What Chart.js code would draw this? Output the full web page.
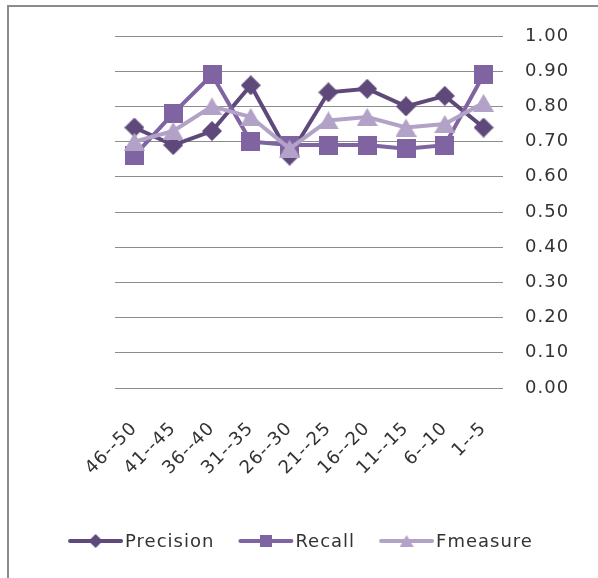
<!DOCTYPE html>
<html><head><meta charset="utf-8">
<script src="https://cdn.jsdelivr.net/npm/chart.js@4/dist/chart.umd.min.js"></script>
<style>
html,body{margin:0;padding:0;background:#fff;overflow:hidden;width:598px;height:578px;}
#c{position:absolute;left:0;top:0;}
</style></head><body>
<canvas id="c" width="598" height="578"></canvas>
<script>
const categories = ['46--50','41--45','36--40','31--35','26--30','21--25','16--20','11--15','6--10','1--5'];
const precision = [0.74, 0.69, 0.73, 0.86, 0.66, 0.84, 0.85, 0.80, 0.83, 0.74];
const recall    = [0.66, 0.78, 0.89, 0.70, 0.69, 0.69, 0.69, 0.68, 0.69, 0.89];
const fmeasure  = [0.70, 0.73, 0.80, 0.77, 0.68, 0.76, 0.77, 0.74, 0.75, 0.81];
const seriesNames = ['Precision', 'Recall', 'Fmeasure'];
const yMin = 0, yMax = 1, yStep = 0.1;

const colors = ['#5f497a', '#8064a2', '#b3a2c7'];
const FONT = '"DejaVu Sans", sans-serif';
const TEXT = '#333333';

function marker(shape, color, w, h) {
  const c = document.createElement('canvas'); c.width = w; c.height = h;
  const g = c.getContext('2d'); g.fillStyle = color; g.beginPath();
  if (shape === 'diamond') { g.moveTo(w/2,0); g.lineTo(w,h/2); g.lineTo(w/2,h); g.lineTo(0,h/2); }
  else if (shape === 'square') { g.rect(0,0,w,h); }
  else { g.moveTo(w/2,0); g.lineTo(w,h); g.lineTo(0,h); }
  g.closePath(); g.fill(); return c;
}
const pointImgs = [marker('diamond', colors[0], 20, 20), marker('square', colors[1], 19, 19), marker('triangle', colors[2], 21, 18)];
const legendImgs = [marker('diamond', colors[0], 14, 14), marker('square', colors[1], 12, 12), marker('triangle', colors[2], 14, 12)];

const spacingPlugin = {
  id: 'spacing',
  beforeUpdate(chart) { chart.ctx.letterSpacing = '1px'; },
  beforeDraw(chart) {
    const ctx = chart.ctx;
    ctx.save();
    ctx.strokeStyle = '#8c8c8c'; ctx.lineWidth = 2;
    ctx.beginPath(); ctx.moveTo(8, 600); ctx.lineTo(8, 6); ctx.lineTo(600, 6); ctx.stroke();
    ctx.restore();
    ctx.letterSpacing = '1px';
  }
};

const legendPlugin = {
  id: 'customLegend',
  afterDraw(chart) {
    const ctx = chart.ctx;
    ctx.save();
    ctx.font = '18px ' + FONT;
    ctx.letterSpacing = '1px';
    ctx.textBaseline = 'middle';
    ctx.textAlign = 'left';
    const lineW = 55, gapText = 2, gapItem = 24, y = 541;
    const ds = chart.data.datasets;
    const widths = ds.map(d => lineW + gapText + ctx.measureText(d.label).width);
    const total = widths.reduce((a, b) => a + b, 0) + gapItem * (ds.length - 1);
    let x = 300.5 - total / 2;
    ds.forEach((d, i) => {
      ctx.strokeStyle = d.borderColor; ctx.lineWidth = 4; ctx.lineCap = 'round';
      ctx.beginPath(); ctx.moveTo(x + 2, y); ctx.lineTo(x + lineW - 2, y); ctx.stroke();
      const img = legendImgs[i];
      ctx.drawImage(img, x + lineW / 2 - img.width / 2, y - img.height / 2);
      ctx.fillStyle = TEXT;
      ctx.fillText(d.label, x + lineW + gapText, y + 1);
      x += widths[i] + gapItem;
    });
    ctx.restore();
  }
};

const series = [precision, recall, fmeasure];
new Chart(document.getElementById('c'), {
  type: 'line',
  data: {
    labels: categories,
    datasets: series.map((vals, i) => ({
      label: seriesNames[i],
      data: vals,
      borderColor: colors[i],
      backgroundColor: colors[i],
      borderWidth: 4,
      tension: 0,
      pointStyle: pointImgs[i],
      pointRadius: 10,
      pointHoverRadius: 10,
      order: 3 - i,
      clip: false
    }))
  },
  options: {
    responsive: false,
    animation: false,
    devicePixelRatio: 1,
    layout: { padding: { left: 115, top: 36, right: 0, bottom: 70 } },
    plugins: { legend: { display: false }, tooltip: { enabled: false } },
    scales: {
      x: {
        type: 'category',
        offset: true,
        grid: { display: false, drawTicks: false },
        border: { display: false },
        ticks: {
          autoSkip: false, minRotation: 45, maxRotation: 45, padding: 30,
          color: TEXT, font: { family: FONT, size: 18 }
        },
        afterFit(s) { s.height = 120; }
      },
      y: {
        position: 'right',
        min: yMin, max: yMax,
        grid: { color: '#8c8c8c', lineWidth: 1, drawTicks: false },
        border: { display: false },
        ticks: {
          stepSize: yStep, padding: 22, color: TEXT,
          font: { family: FONT, size: 18 },
          callback: v => Number(v).toFixed(2)
        },
        afterFit(s) { s.width = 95; }
      }
    }
  },
  plugins: [spacingPlugin, legendPlugin]
});
</script>
</body></html>
